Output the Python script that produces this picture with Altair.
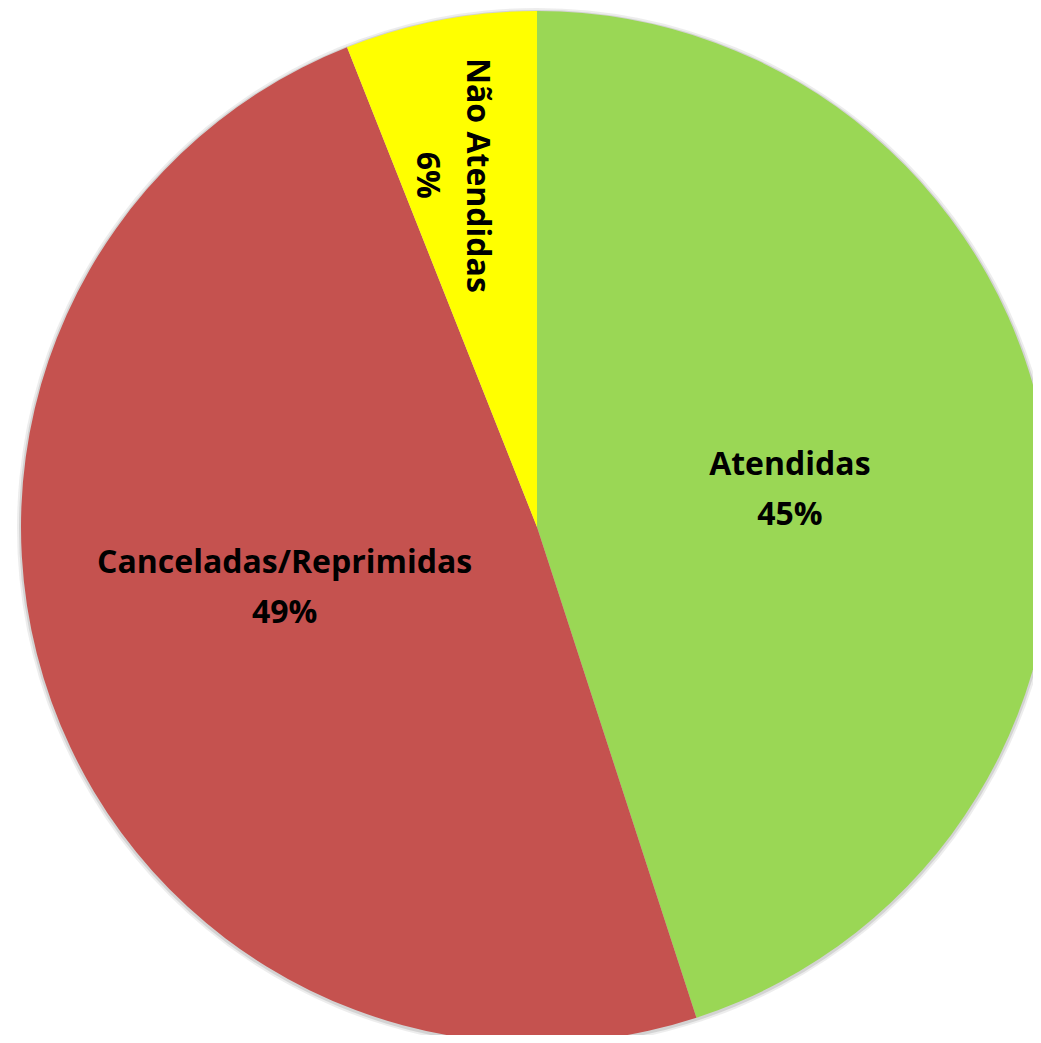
import math
import altair as alt
import pandas as pd

categories = ["Atendidas", "Canceladas/Reprimidas", "Não Atendidas"]
values = [45, 49, 6]
labels = ["45%", "49%", "6%"]
colors = ["#9AD755", "#C5524F", "#FFFF00"]

df = pd.DataFrame({
    "cat": categories,
    "val": values,
    "order": [0, 1, 2],
    "label": [f"{c}\n{p}" for c, p in zip(categories, labels)],
})

CX, CY, R = 529, 519, 516
theta_scale = alt.Scale(domain=[0, 100], range=[0, 2 * math.pi])

shadow1 = alt.Chart(pd.DataFrame({"a": [1]})).mark_arc(
    theta=0, theta2=2 * math.pi, outerRadius=R + 4, color="#999999", opacity=0.18
).encode(x=alt.value(CX), y=alt.value(CY + 1))
shadow2 = alt.Chart(pd.DataFrame({"a": [1]})).mark_arc(
    theta=0, theta2=2 * math.pi, outerRadius=R + 2, color="#888888", opacity=0.25
).encode(x=alt.value(CX), y=alt.value(CY + 1))

pie = alt.Chart(df).mark_arc(outerRadius=R).encode(
    theta=alt.Theta("val:Q", stack=True, scale=theta_scale),
    order=alt.Order("order:Q"),
    color=alt.Color("cat:N", scale=alt.Scale(domain=categories, range=colors), legend=None),
    x=alt.value(CX),
    y=alt.value(CY),
)

text_base = alt.Chart(df).transform_window(
    cum="sum(val)", sort=[alt.SortField("order")]
).transform_calculate(
    mid="datum.cum - datum.val / 2"
).encode(
    theta=alt.Theta("mid:Q", scale=theta_scale),
    text="label:N",
    x=alt.value(CX),
    y=alt.value(CY),
)

text_style = dict(font="Open Sans", fontWeight="bold", fontSize=32, lineBreak="\n",
                  lineHeight=50, color="black", align="center", baseline="middle", dy=-22)

t_green = text_base.transform_filter(alt.datum.cat == categories[0]).mark_text(
    radius=256, **text_style)
t_red = text_base.transform_filter(alt.datum.cat == categories[1]).mark_text(
    radius=259, thetaOffset=0.119, **text_style)
t_yellow = text_base.transform_filter(alt.datum.cat == categories[2]).mark_text(
    radius=361, thetaOffset=-0.04, angle=90, **text_style)

chart = alt.layer(shadow1, shadow2, pie, t_green, t_red, t_yellow).properties(
    width=1025, height=1027, autosize=alt.AutoSizeParams(type="none"), padding=0
).configure_view(stroke=None)

chart.save("out.html", embed_options={"renderer": "svg", "actions": False})
